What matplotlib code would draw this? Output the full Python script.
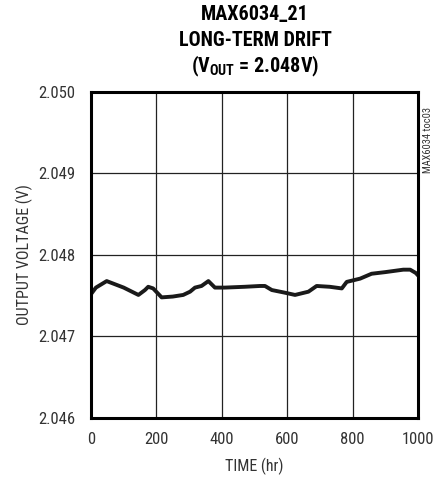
import matplotlib
matplotlib.use("Agg")
import matplotlib.pyplot as plt
from matplotlib import font_manager

names = {f.name for f in font_manager.fontManager.ttflist}
fam = "DejaVu Sans"
for cand in ["Roboto Condensed", "Liberation Sans Narrow", "Archivo Narrow", "Barlow Semi Condensed"]:
    if cand in names:
        fam = cand
        break
plt.rcParams['font.family'] = [fam, 'DejaVu Sans']
plt.rcParams['mathtext.fontset'] = 'custom'
plt.rcParams['mathtext.rm'] = fam
plt.rcParams['mathtext.bf'] = fam + ':bold'

hours = [0, 15, 48, 100, 145, 165, 175, 190, 216, 250, 282, 303, 318, 338, 359, 379, 409,
         470, 517, 532, 553, 590, 624, 665, 690, 730, 767, 782, 823, 858, 900, 955, 976, 993, 1000]
volts = [2.04752, 2.04760, 2.04768, 2.04760, 2.04751, 2.04757, 2.04761, 2.04759, 2.04748, 2.04749,
         2.04751, 2.04755, 2.04760, 2.04762, 2.04768, 2.04760, 2.04760,
         2.04761, 2.04762, 2.04762, 2.04757, 2.04754, 2.04751, 2.04755, 2.04762, 2.04761, 2.04759,
         2.04767, 2.04771, 2.04777, 2.04779, 2.04782, 2.04782, 2.04778, 2.04775]
xticks = [0, 200, 400, 600, 800, 1000]
yticks = [2.046, 2.047, 2.048, 2.049, 2.050]

fig = plt.figure(figsize=(4.44, 4.78), dpi=100)
ax = fig.add_axes([91/444, 1 - 418/478, 327/444, 326/478])
ax.plot(hours, volts, color='#1a1a1a', lw=2.8, solid_joinstyle='round')
ax.set_xlim(0, 1000)
ax.set_ylim(2.046, 2.050)
ax.set_xticks(xticks)
ax.set_yticks(yticks)
ax.set_xticklabels([str(t) for t in xticks])
ax.set_yticklabels([f"{t:.3f}" for t in yticks])
ax.tick_params(length=0, labelsize=12, colors='#333333')
ax.tick_params(axis='y', pad=11)
ax.tick_params(axis='x', pad=10)
ax.grid(True, color='#222222', lw=0.9)
ax.set_axisbelow(True)
for s in ax.spines.values():
    s.set_linewidth(2.2)
    s.set_color('black')
ax.set_xlabel("TIME (hr)", fontsize=11.5, color='#333333', labelpad=8)
ax.set_ylabel("OUTPUT VOLTAGE (V)", fontsize=11.5, color='#333333', labelpad=4)
cx = 255/444
fig.text(cx, 1 - 14/478, "MAX6034_21", ha='center', va='center', fontsize=14.5, fontweight='bold')
fig.text(cx, 1 - 40/478, "LONG-TERM DRIFT", ha='center', va='center', fontsize=14.5, fontweight='bold')
fig.text(cx, 1 - 66/478, r"(V$_{\mathbf{OUT}}$ = 2.048V)", ha='center', va='center', fontsize=14.5, fontweight='bold')
fig.text(428/444, 1 - 140/478, "MAX6034 toc03", rotation=90, ha='center', va='center', fontsize=7.5, color='#333333')
fig.savefig("out.png", dpi=100)
